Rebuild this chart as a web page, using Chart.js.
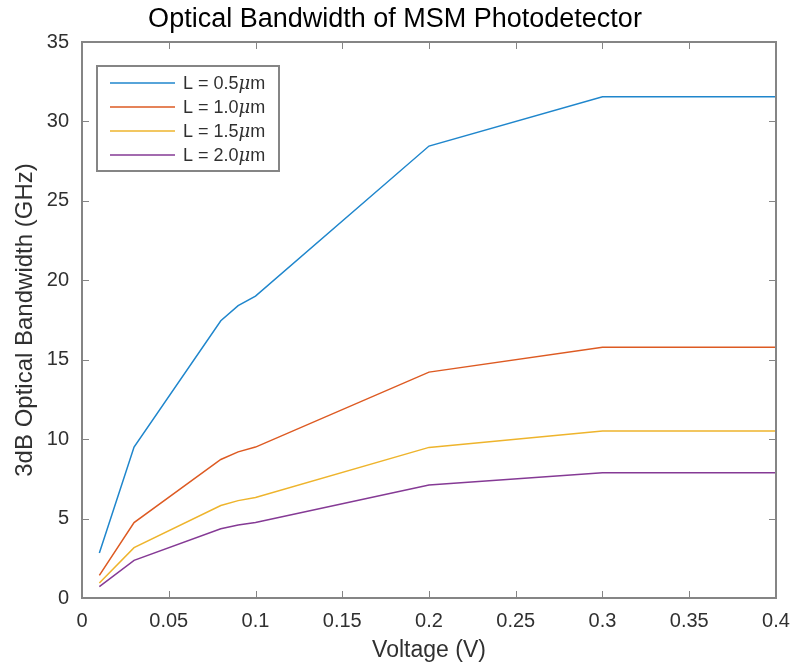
<!DOCTYPE html>
<html>
<head>
<meta charset="utf-8">
<script src="https://cdn.jsdelivr.net/npm/chart.js@4/dist/chart.umd.min.js"></script>
<style>
  html,body{margin:0;padding:0;background:#fff;}
  #wrap{width:790px;height:667px;}
</style>
</head>
<body>
<div id="wrap"><canvas id="c"></canvas></div>
<script>
// data
const voltage = [0.01, 0.03, 0.08, 0.09, 0.1, 0.2, 0.3, 0.4];
const bw05 = [2.83, 9.5, 17.45, 18.4, 19.0, 28.45, 31.55, 31.55];
const bw10 = [1.42, 4.75, 8.72, 9.2, 9.5, 14.22, 15.78, 15.78];
const bw15 = [0.94, 3.17, 5.82, 6.13, 6.33, 9.48, 10.52, 10.52];
const bw20 = [0.71, 2.37, 4.36, 4.6, 4.75, 7.11, 7.89, 7.89];
const seriesNames = ["0.5", "1.0", "1.5", "2.0"];
const xTicks = [0, 0.05, 0.1, 0.15, 0.2, 0.25, 0.3, 0.35, 0.4];
const yTicks = [0, 5, 10, 15, 20, 25, 30, 35];

const COLORS = ["#1f86cc", "#dd5a22", "#eeb42c", "#853a95"];
const FONT = "'Liberation Sans', Arial, Helvetica, sans-serif";
const AXIS = "#858585", TXT = "#303030";

const pts = ys => voltage.map((x, i) => ({x, y: ys[i]}));

// MATLAB-ish box with inward ticks on all four sides
const boxPlugin = {
  id: "box",
  afterDatasetsDraw(chart){
    const {ctx, chartArea:a, scales:{x, y}} = chart;
    const L = 7;
    ctx.save();
    ctx.strokeStyle = AXIS;
    ctx.lineWidth = 1;
    ctx.beginPath();
    xTicks.forEach(v=>{
      const px = Math.round(x.getPixelForValue(v)) + 0.5;
      ctx.moveTo(px, a.bottom); ctx.lineTo(px, a.bottom - L);
      ctx.moveTo(px, a.top); ctx.lineTo(px, a.top + L);
    });
    yTicks.forEach(v=>{
      const py = Math.round(y.getPixelForValue(v)) + 0.5;
      ctx.moveTo(a.left, py); ctx.lineTo(a.left + L, py);
      ctx.moveTo(a.right, py); ctx.lineTo(a.right - L, py);
    });
    ctx.stroke();
    ctx.lineWidth = 2;
    ctx.strokeRect(a.left, a.top, a.right - a.left, a.bottom - a.top);
    ctx.restore();
  }
};

// legend box inside the axes, upper left
const legendPlugin = {
  id: "inlegend",
  afterDraw(chart){
    const {ctx, chartArea:a} = chart;
    const bx = a.left + 15, by = a.top + 24, bw = 182, bh = 105;
    ctx.save();
    ctx.fillStyle = "#fff";
    ctx.fillRect(bx, by, bw, bh);
    ctx.strokeStyle = AXIS;
    ctx.lineWidth = 2;
    ctx.strokeRect(bx, by, bw, bh);
    ctx.textBaseline = "middle";
    chart.data.datasets.forEach((ds, i)=>{
      const ry = by + 17 + i*24;
      ctx.strokeStyle = ds.borderColor;
      ctx.lineWidth = 1.5;
      ctx.beginPath();
      ctx.moveTo(bx + 13, ry); ctx.lineTo(bx + 78, ry);
      ctx.stroke();
      ctx.fillStyle = TXT;
      let tx = bx + 86;
      const parts = [["L = " + seriesNames[i], "18px " + FONT], ["\u03bc", "italic 18px 'DejaVu Serif', serif"], ["m", "18px " + FONT]];
      parts.forEach(([t, f])=>{
        ctx.font = f;
        ctx.fillText(t, tx, ry + 1);
        tx += ctx.measureText(t).width;
      });
    });
    ctx.restore();
  }
};

const tickOpts = {color: TXT, font: {family: FONT, size: 20}};

new Chart(document.getElementById("c"), {
  type: "line",
  data: {
    datasets: [bw05, bw10, bw15, bw20].map((d, i)=>({
      label: "L = " + seriesNames[i] + "\u03bcm",
      data: pts(d),
      borderColor: COLORS[i],
      backgroundColor: COLORS[i],
      borderWidth: 1.5,
      pointRadius: 0,
      tension: 0,
    })),
  },
  options: {
    responsive: true, maintainAspectRatio: false, animation: false,
    layout: {padding: {left: 0, right: 0, top: 0, bottom: 0}},
    plugins: {
      legend: {display: false},
      tooltip: {enabled: false},
      title: {display: true, text: "Optical Bandwidth of MSM Photodetector",
        color: "#000", font: {family: FONT, size: 27, weight: "normal"}, padding: {top: 3, bottom: 6.6}},
    },
    scales: {
      x: {
        type: "linear", min: 0, max: 0.4,
        afterBuildTicks: s => { s.ticks = xTicks.map(v=>({value: v})); },
        afterFit: s => { s.height = 69; s.paddingRight = 14; s.paddingLeft = 0; },
        grid: {display: false, drawTicks: false},
        border: {display: false},
        ticks: {...tickOpts, padding: 11, callback: v => String(v)},
        title: {display: true, text: "Voltage (V)", color: TXT, font: {family: FONT, size: 23}, padding: {top: 0, bottom: 3}},
      },
      y: {
        type: "linear", min: 0, max: 35,
        afterBuildTicks: s => { s.ticks = yTicks.map(v=>({value: v})); },
        afterFit: s => { s.width = 82; },
        grid: {display: false, drawTicks: false},
        border: {display: false},
        ticks: {...tickOpts, padding: 13},
        title: {display: true, text: "3dB Optical Bandwidth (GHz)", color: TXT, font: {family: FONT, size: 24}, padding: {top: 11, bottom: 0}},
      },
    },
  },
  plugins: [boxPlugin, legendPlugin],
});
</script>
</body>
</html>
